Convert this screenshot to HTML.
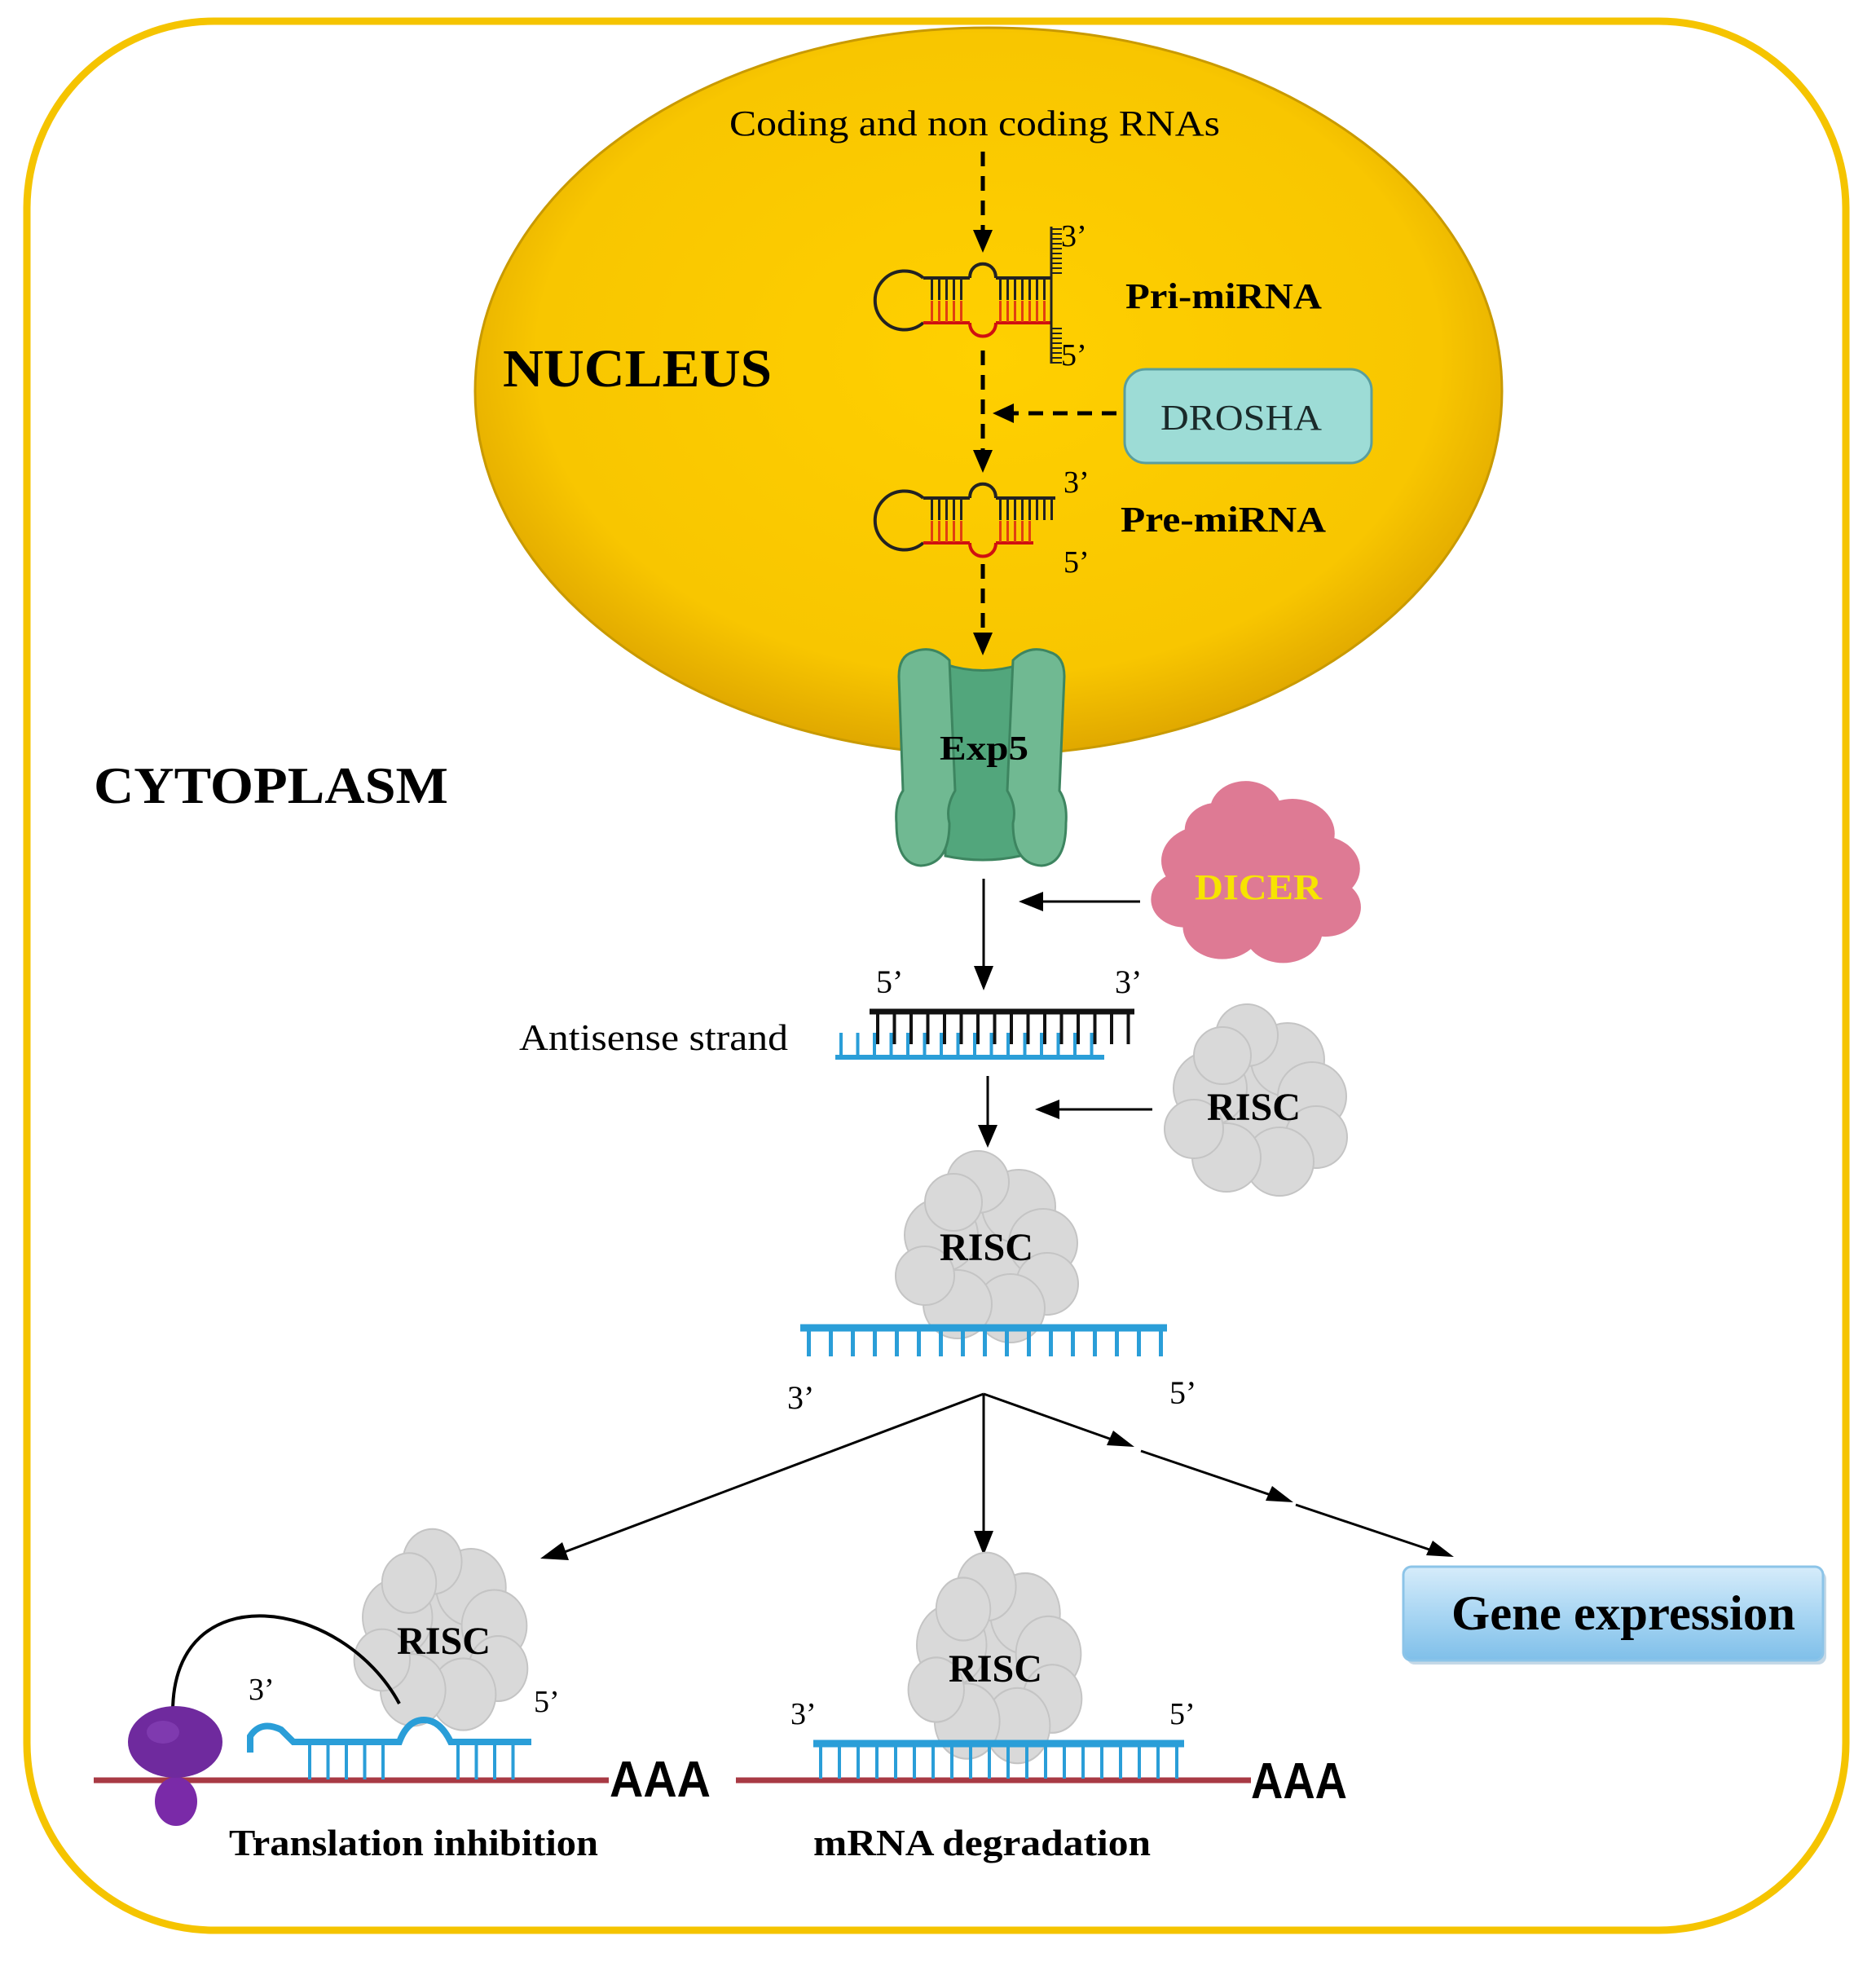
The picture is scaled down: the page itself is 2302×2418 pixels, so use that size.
<!DOCTYPE html>
<html><head><meta charset="utf-8"><style>
html,body{margin:0;padding:0;background:#fff;}
svg{display:block;}
.serif{font-family:"Liberation Serif",serif;}
</style></head><body>
<svg width="2302" height="2418" viewBox="0 0 2302 2418" xmlns="http://www.w3.org/2000/svg">
<defs>
<radialGradient id="nuc" cx="50%" cy="45%" r="55%">
<stop offset="0" stop-color="#ffd000"/><stop offset="0.8" stop-color="#f8c600"/><stop offset="1" stop-color="#e0a800"/>
</radialGradient>
<linearGradient id="gene" x1="0" y1="0" x2="0" y2="1">
<stop offset="0" stop-color="#d6ecfa"/><stop offset="0.5" stop-color="#a9d6f3"/><stop offset="1" stop-color="#7fbfe9"/>
</linearGradient>
<g id="blob">
<circle cx="0" cy="0" r="70"/><circle cx="-55" cy="-20" r="45"/><circle cx="40" cy="-55" r="45"/>
<circle cx="-10" cy="-85" r="38"/><circle cx="70" cy="-10" r="42"/><circle cx="75" cy="40" r="38"/>
<circle cx="30" cy="70" r="42"/><circle cx="-35" cy="65" r="42"/><circle cx="-75" cy="30" r="36"/>
<circle cx="-40" cy="-60" r="35"/>
</g>
</defs>
<rect x="0" y="0" width="2302" height="2418" fill="#fff"/>
<rect x="33" y="26" width="2232" height="2342" rx="230" ry="230" fill="none" stroke="#f5c400" stroke-width="9"/>

<!-- nucleus -->
<ellipse cx="1213" cy="480" rx="630" ry="446" fill="url(#nuc)" stroke="#c99a00" stroke-width="3"/>
<text x="895" y="166" class="serif" font-size="44" textLength="602" lengthAdjust="spacingAndGlyphs">Coding and non coding RNAs</text>
<text x="617" y="474" class="serif" font-size="66" font-weight="bold" textLength="330" lengthAdjust="spacingAndGlyphs">NUCLEUS</text>

<!-- dashed arrows -->
<g stroke="#000" stroke-width="5" stroke-dasharray="18 12" fill="none">
<line x1="1206" y1="186" x2="1206" y2="285"/>
<line x1="1206" y1="430" x2="1206" y2="555"/>
<line x1="1370" y1="507" x2="1240" y2="507"/>
<line x1="1206" y1="692" x2="1206" y2="780"/>
</g>
<g fill="#000">
<polygon points="1194,282 1218,282 1206,310"/>
<polygon points="1194,552 1218,552 1206,580"/>
<polygon points="1244,495 1244,519 1218,507"/>
<polygon points="1194,776 1218,776 1206,804"/>
</g>

<!-- pri-miRNA -->
<g fill="none" stroke-width="4">
<path d="M1133,341 A36,36 0 1 0 1133,396" stroke="#222"/>
<line x1="1133" y1="341" x2="1190" y2="341" stroke="#222"/>
<line x1="1133" y1="396" x2="1190" y2="396" stroke="#d01010"/>
<path d="M1190,341 C1190,318 1222,318 1222,341" stroke="#222"/>
<path d="M1190,396 C1190,418 1222,418 1222,396" stroke="#d01010"/>
<line x1="1222" y1="341" x2="1290" y2="341" stroke="#222"/>
<line x1="1222" y1="396" x2="1290" y2="396" stroke="#d01010"/>
<line x1="1142" y1="355" x2="1185" y2="355" stroke="#222" stroke-width="26" stroke-dasharray="3 6"/>
<line x1="1142" y1="382" x2="1185" y2="382" stroke="#e04010" stroke-width="26" stroke-dasharray="3 6"/>
<line x1="1226" y1="355" x2="1288" y2="355" stroke="#222" stroke-width="26" stroke-dasharray="3 6"/>
<line x1="1226" y1="382" x2="1288" y2="382" stroke="#e04010" stroke-width="26" stroke-dasharray="3 6"/>
<line x1="1290" y1="278" x2="1290" y2="446" stroke="#222" stroke-width="3"/>
<line x1="1297" y1="280" x2="1297" y2="336" stroke="#222" stroke-width="12" stroke-dasharray="2 4"/>
<line x1="1297" y1="402" x2="1297" y2="446" stroke="#222" stroke-width="12" stroke-dasharray="2 4"/>
</g>
<text x="1302" y="302" class="serif" font-size="38">3’</text>
<text x="1302" y="448" class="serif" font-size="38">5’</text>
<text x="1381" y="378" class="serif" font-size="44" font-weight="bold" textLength="241" lengthAdjust="spacingAndGlyphs">Pri-miRNA</text>

<!-- DROSHA -->
<rect x="1380" y="453" width="303" height="115" rx="26" fill="#9ddcd6" stroke="#5a9e9e" stroke-width="3"/>
<text x="1424" y="527" class="serif" font-size="44" textLength="198" lengthAdjust="spacingAndGlyphs" fill="#1a2a2a">DROSHA</text>

<!-- pre-miRNA -->
<g fill="none" stroke-width="4">
<path d="M1133,611 A36,36 0 1 0 1133,666" stroke="#222"/>
<line x1="1133" y1="611" x2="1190" y2="611" stroke="#222"/>
<line x1="1133" y1="666" x2="1190" y2="666" stroke="#d01010"/>
<path d="M1190,611 C1190,588 1222,588 1222,611" stroke="#222"/>
<path d="M1190,666 C1190,688 1222,688 1222,666" stroke="#d01010"/>
<line x1="1222" y1="611" x2="1295" y2="611" stroke="#222"/>
<line x1="1222" y1="666" x2="1268" y2="666" stroke="#d01010"/>
<line x1="1142" y1="625" x2="1185" y2="625" stroke="#222" stroke-width="26" stroke-dasharray="3 6"/>
<line x1="1142" y1="652" x2="1185" y2="652" stroke="#e04010" stroke-width="26" stroke-dasharray="3 6"/>
<line x1="1226" y1="625" x2="1292" y2="625" stroke="#222" stroke-width="26" stroke-dasharray="3 6"/>
<line x1="1226" y1="652" x2="1266" y2="652" stroke="#e04010" stroke-width="26" stroke-dasharray="3 6"/>
</g>
<text x="1305" y="604" class="serif" font-size="38">3’</text>
<text x="1305" y="702" class="serif" font-size="38">5’</text>
<text x="1375" y="652" class="serif" font-size="44" font-weight="bold" textLength="252" lengthAdjust="spacingAndGlyphs">Pre-miRNA</text>

<!-- Exp5 -->
<g stroke="#3d8560" stroke-width="3">
<path d="M1160,815 Q1206,830 1252,815 L1252,1050 Q1206,1060 1160,1050 Z" fill="#52a67c"/>
<path d="M1120,800 Q1145,790 1165,810 L1172,970 Q1160,990 1165,1010 Q1165,1060 1130,1062 Q1100,1060 1100,1010 Q1098,985 1108,970 L1103,830 Q1103,805 1120,800 Z" fill="#70b992"/>
<path d="M1288,800 Q1263,790 1243,810 L1236,970 Q1248,990 1243,1010 Q1243,1060 1278,1062 Q1308,1060 1308,1010 Q1310,985 1300,970 L1306,830 Q1306,805 1288,800 Z" fill="#70b992"/>
</g>
<text x="1153" y="932" class="serif" font-size="42" font-weight="bold" textLength="109" lengthAdjust="spacingAndGlyphs">Exp5</text>

<text x="115" y="985" class="serif" font-size="64" font-weight="bold" textLength="435" lengthAdjust="spacingAndGlyphs">CYTOPLASM</text>

<!-- solid arrows -->
<g stroke="#000" stroke-width="3">
<line x1="1207" y1="1078" x2="1207" y2="1195"/>
<line x1="1399" y1="1106" x2="1270" y2="1106"/>
<line x1="1212" y1="1320" x2="1212" y2="1385"/>
<line x1="1414" y1="1361" x2="1290" y2="1361"/>
<line x1="1207" y1="1710" x2="1207" y2="1880"/>
<line x1="1207" y1="1710" x2="690" y2="1905"/>
<line x1="1207" y1="1710" x2="1370" y2="1768"/>
<line x1="1400" y1="1780" x2="1565" y2="1836"/>
<line x1="1590" y1="1846" x2="1760" y2="1903"/>
</g>
<g fill="#000">
<polygon points="1195,1185 1219,1185 1207,1215"/>
<polygon points="1280,1094 1280,1118 1250,1106"/>
<polygon points="1200,1380 1224,1380 1212,1408"/>
<polygon points="1300,1349 1300,1373 1270,1361"/>
<polygon points="1195,1878 1219,1878 1207,1908"/>
<polygon points="663,1912 690,1892 698,1914"/>
<polygon points="1358,1773 1366,1755 1392,1775"/>
<polygon points="1553,1841 1561,1823 1587,1843"/>
<polygon points="1750,1908 1758,1890 1784,1910"/>
</g>

<!-- DICER -->
<g fill="#de7a94" transform="translate(1540,1075) scale(1.15,0.95)"><use href="#blob"/></g>
<text x="1466" y="1103" class="serif" font-size="44" font-weight="bold" fill="#f7e400" textLength="156" lengthAdjust="spacingAndGlyphs">DICER</text>

<!-- antisense -->
<text x="1075" y="1218" class="serif" font-size="40">5’</text>
<text x="1368" y="1218" class="serif" font-size="40">3’</text>
<text x="637" y="1288" class="serif" font-size="45" textLength="330" lengthAdjust="spacingAndGlyphs">Antisense strand</text>
<line x1="1067" y1="1241" x2="1392" y2="1241" stroke="#111" stroke-width="7"/>
<line x1="1075" y1="1262" x2="1392" y2="1262" stroke="#111" stroke-width="38" stroke-dasharray="4 16.5"/>
<line x1="1025" y1="1297" x2="1355" y2="1297" stroke="#2a9ed8" stroke-width="6"/>
<line x1="1030" y1="1282" x2="1350" y2="1282" stroke="#2a9ed8" stroke-width="30" stroke-dasharray="4 16.5"/>

<!-- RISC blobs -->
<g fill="#d9d9d9" stroke="#c4c4c4" stroke-width="2" transform="translate(1540,1355)"><use href="#blob"/></g>
<text x="1481" y="1374" class="serif" font-size="48" font-weight="bold" textLength="115" lengthAdjust="spacingAndGlyphs">RISC</text>
<g fill="#d9d9d9" stroke="#c4c4c4" stroke-width="2" transform="translate(1210,1535)"><use href="#blob"/></g>
<text x="1153" y="1546" class="serif" font-size="48" font-weight="bold" textLength="115" lengthAdjust="spacingAndGlyphs">RISC</text>

<!-- target strand -->
<line x1="982" y1="1629" x2="1432" y2="1629" stroke="#2a9ed8" stroke-width="9"/>
<line x1="990" y1="1648" x2="1430" y2="1648" stroke="#2a9ed8" stroke-width="32" stroke-dasharray="5 22"/>
<text x="966" y="1728" class="serif" font-size="40">3’</text>
<text x="1435" y="1722" class="serif" font-size="40">5’</text>

<!-- Gene expression -->
<rect x="1726" y="1927" width="515" height="115" rx="10" fill="#5a8fb8" opacity="0.35"/>
<rect x="1722" y="1922" width="515" height="115" rx="10" fill="url(#gene)" stroke="#8cc4e8" stroke-width="3"/>
<text x="1781" y="1999" class="serif" font-size="60" font-weight="bold" textLength="422" lengthAdjust="spacingAndGlyphs">Gene expression</text>

<!-- bottom left -->
<g fill="#d9d9d9" stroke="#c4c4c4" stroke-width="2" transform="translate(540,2005) scale(0.95,1.05)"><use href="#blob"/></g>
<text x="487" y="2029" class="serif" font-size="48" font-weight="bold" textLength="115" lengthAdjust="spacingAndGlyphs">RISC</text>
<path d="M212,2100 C212,1930 420,1960 490,2090" fill="none" stroke="#000" stroke-width="4"/>
<line x1="115" y1="2184" x2="747" y2="2184" stroke="#a83a44" stroke-width="7"/>
<path d="M307,2150 L307,2130 Q320,2110 345,2122 L360,2137 L490,2137 Q500,2110 520,2110 Q540,2110 553,2137 L652,2137" fill="none" stroke="#2a9ed8" stroke-width="8"/>
<line x1="378" y1="2160" x2="490" y2="2160" stroke="#2a9ed8" stroke-width="46" stroke-dasharray="4 18.5"/>
<line x1="560" y1="2160" x2="650" y2="2160" stroke="#2a9ed8" stroke-width="46" stroke-dasharray="4 18.5"/>
<ellipse cx="216" cy="2210" rx="26" ry="30" fill="#7a2aa8"/>
<ellipse cx="215" cy="2137" rx="58" ry="44" fill="#6f2a9e"/>
<ellipse cx="200" cy="2125" rx="20" ry="14" fill="#8a46bb" opacity="0.6"/>
<text x="305" y="2085" class="serif" font-size="38">3’</text>
<text x="655" y="2100" class="serif" font-size="38">5’</text>
<text x="748" y="2204" font-family="Liberation Sans, sans-serif" font-size="62" font-weight="bold" textLength="124" lengthAdjust="spacingAndGlyphs">AAA</text>
<text x="281" y="2276" class="serif" font-size="46" font-weight="bold" textLength="453" lengthAdjust="spacingAndGlyphs">Translation inhibition</text>

<!-- bottom middle -->
<g fill="#d9d9d9" stroke="#c4c4c4" stroke-width="2" transform="translate(1220,2040) scale(0.95,1.1)"><use href="#blob"/></g>
<text x="1164" y="2063" class="serif" font-size="48" font-weight="bold" textLength="115" lengthAdjust="spacingAndGlyphs">RISC</text>
<line x1="903" y1="2184" x2="1535" y2="2184" stroke="#a83a44" stroke-width="7"/>
<line x1="998" y1="2139" x2="1453" y2="2139" stroke="#2a9ed8" stroke-width="9"/>
<line x1="1005" y1="2162" x2="1450" y2="2162" stroke="#2a9ed8" stroke-width="40" stroke-dasharray="4 19"/>
<text x="970" y="2115" class="serif" font-size="38">3’</text>
<text x="1435" y="2115" class="serif" font-size="38">5’</text>
<text x="1535" y="2206" font-family="Liberation Sans, sans-serif" font-size="62" font-weight="bold" textLength="118" lengthAdjust="spacingAndGlyphs">AAA</text>
<text x="998" y="2276" class="serif" font-size="46" font-weight="bold" textLength="414" lengthAdjust="spacingAndGlyphs">mRNA degradation</text>
</svg>
</body></html>
